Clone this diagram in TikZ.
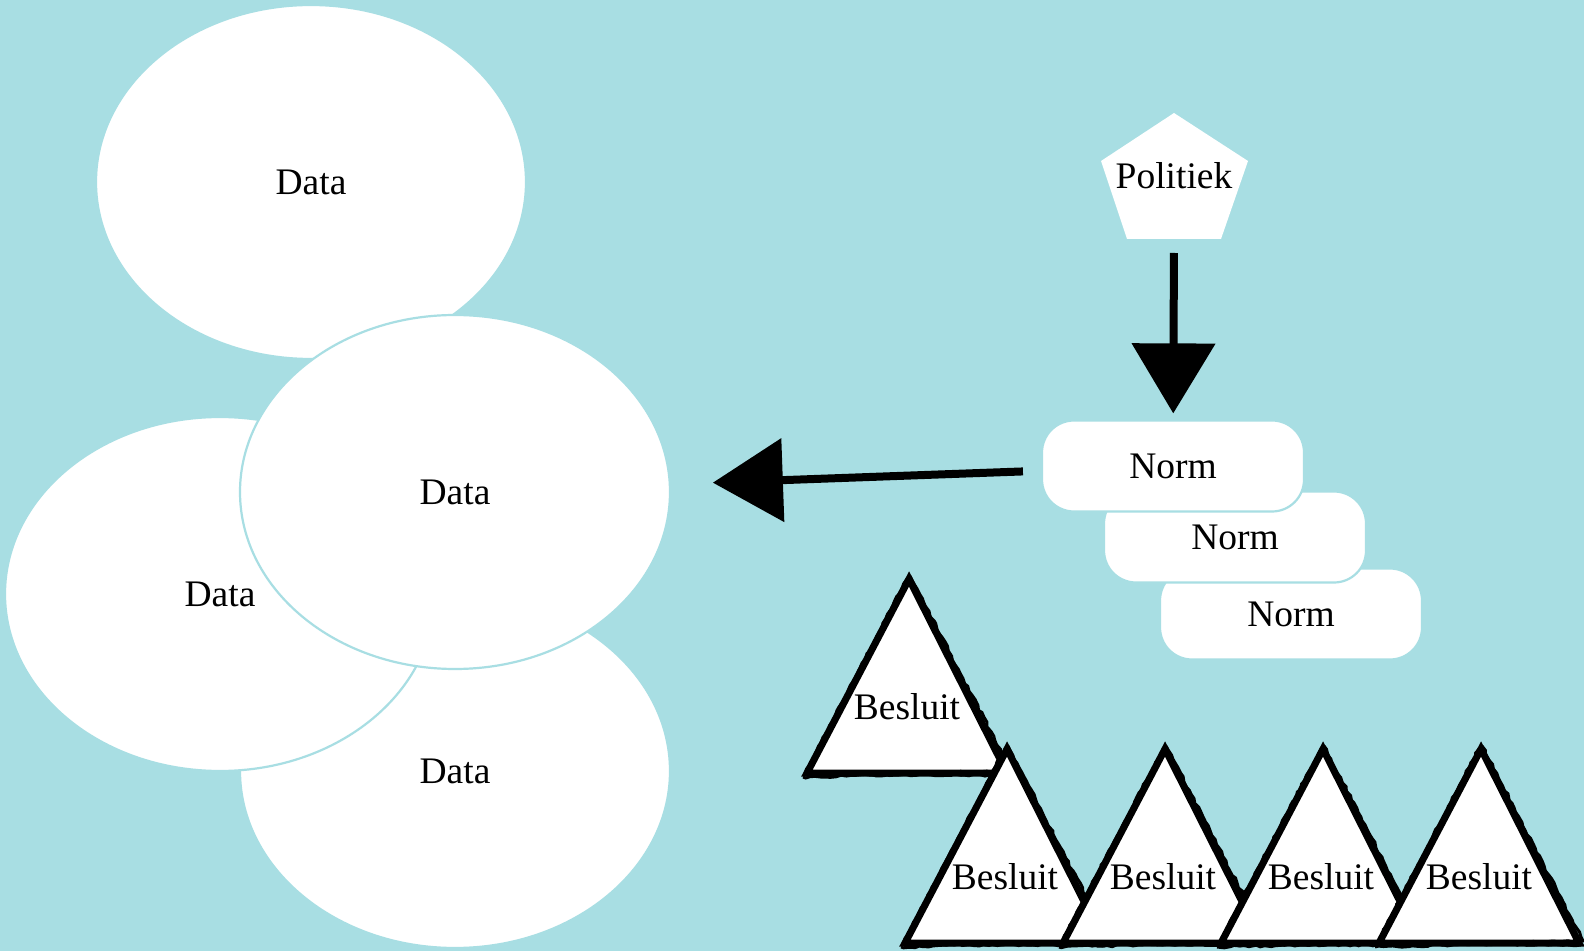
\documentclass[tikz,border=0pt]{standalone}
\usepackage{fontspec}
\setmainfont{Liberation Serif}
\usetikzlibrary{arrows.meta,shapes.geometric,positioning,decorations.pathmorphing}
\definecolor{zee}{RGB}{168,222,227}

\begin{document}
\begin{tikzpicture}[x=0.5pt,y=-0.5pt,node distance=79pt,
                    font=\fontsize{18.75}{22}\selectfont]
  \tikzstyle{every node}=[inner sep=0pt]
  \tikzstyle{data}=[ellipse,fill=white,draw=zee,line width=1.1pt,
                    minimum width=215pt,minimum height=177pt]
  \tikzstyle{norm}=[rectangle,rounded corners=16pt,fill=white,draw=zee,
                    line width=1.1pt,minimum width=131pt,minimum height=45.5pt]
  \tikzstyle{pijl}=[line width=4pt,-{Triangle[width=41pt,length=35pt]}]
  \tikzstyle{driehoek}=[fill=white,draw=black,line width=3.5pt,line join=miter]
  \tikzstyle{ruw}=[draw=black,line width=1.5pt,decorate,
                   decoration={random steps,segment length=2.5pt,amplitude=0.6pt}]

  \path[use as bounding box,fill=zee] (0,0) rectangle (1584,951);
  \clip (0,0) rectangle (1584,951);

  % data cloud
  \node[data] (D1) at (311,182) {Data};
  \node[data] (D4) at (455,771) {Data};
  \node[data] (D2) at (220,594) {Data};
  \node[data] (D3) at (455,492) {Data};

  % norms
  \node[norm] (N3) at (1291,614) {Norm};
  \node[norm] (N2) at (1235,537) {Norm};
  \node[norm] (N1) at (1173,466) {Norm};

  % politiek
  \fill[white] (1174,113) -- (1248,161) -- (1221,239) -- (1127,239) -- (1101,161) -- cycle;
  \node (P) at (1174,176) {Politiek};
  \coordinate (Pvoet) at (1174,239);

  \path
        (Pvoet) edge [pijl,shorten <=7pt,shorten >=3pt]  (N1)
        (N1)    edge [pijl,shorten <=9pt,shorten >=21pt] (D3);

  % besluiten
  \foreach \n/\x/\y in {1/907/707,2/1005/877,3/1163/877,4/1321/877,5/1479/877}{
    \filldraw[driehoek] (\x+2,\y-128) -- (\x+100,\y+66) -- (\x-100,\y+66) -- cycle;
    \draw[ruw] (\x+3,\y-131) -- (\x+104,\y+64) -- (\x-104,\y+70);
    \draw[ruw] (\x,\y-128) -- (\x-102,\y+67) -- (\x+102,\y+68);
    \node (B\n) at (\x,\y) {Besluit};
  }
\end{tikzpicture}
\end{document}
